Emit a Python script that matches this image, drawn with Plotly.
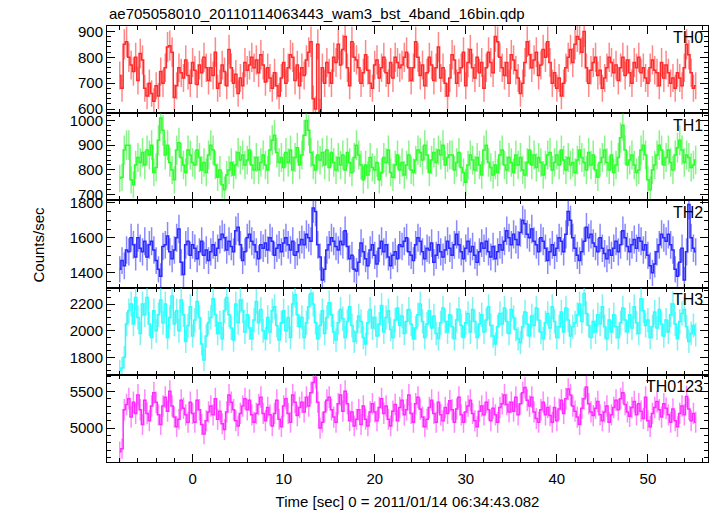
import numpy as np
import plotly.graph_objects as go
from plotly.subplots import make_subplots

# ---- data (count rates, 0.25 s bins, starting at t = -8.0 s) ----
T_START = -8.0
BIN = 0.25

th0 = [730, 680, 850, 860, 800, 770, 745, 800, 710, 815, 790, 680, 650, 700, 660, 630,
       690, 650, 745, 700, 760, 840, 845, 820, 645, 690, 760, 740, 720, 790, 730, 700,
       780, 750, 695, 770, 740, 800, 760, 710, 760, 730, 820, 680, 700, 770, 745, 690,
       830, 760, 700, 735, 660, 720, 690, 780, 750, 770, 800, 760, 790, 740, 810, 770,
       705, 760, 720, 680, 740, 690, 650, 720, 780, 700, 760, 810, 800, 710, 770, 690,
       760, 730, 790, 820, 860, 640, 600, 850, 590, 760, 700, 780, 740, 700, 800, 780,
       850, 770, 830, 880, 760, 690, 860, 800, 790, 760, 700, 740, 810, 750, 700, 680,
       770, 790, 720, 760, 800, 740, 700, 780, 720, 800, 780, 760, 770, 800, 820, 760,
       710, 760, 860, 800, 730, 770, 690, 740, 800, 770, 710, 760, 840, 720, 760, 700,
       650, 720, 810, 790, 700, 740, 760, 820, 690, 780, 830, 760, 720, 800, 740, 780,
       680, 760, 820, 780, 740, 880, 860, 800, 760, 730, 780, 700, 810, 790, 750, 720,
       660, 700, 780, 860, 810, 760, 790, 820, 730, 770, 830, 800, 860, 780, 700, 740,
       680, 720, 650, 700, 760, 800, 830, 780, 850, 880, 870, 820, 900, 760, 700, 750,
       780, 800, 730, 750, 680, 720, 760, 800, 780, 740, 770, 710, 760, 800, 730, 790,
       740, 700, 780, 760, 800, 740, 760, 720, 700, 760, 790, 750, 740, 690, 780, 720,
       770, 740, 700, 720, 680, 740, 720, 690, 760, 850, 810, 740, 680, 690]

th1 = [765, 770, 880, 900, 900, 760, 740, 820, 850, 830, 870, 820, 880, 860, 900, 790,
       810, 920, 1010, 960, 860, 900, 830, 800, 760, 880, 910, 850, 820, 790, 880, 860,
       830, 820, 880, 850, 800, 830, 790, 860, 900, 880, 820, 770, 800, 740, 720, 780,
       800, 830, 780, 820, 870, 840, 860, 820, 840, 880, 820, 800, 850, 800, 830, 860,
       820, 800, 880, 920, 940, 870, 830, 850, 810, 870, 830, 880, 800, 850, 890, 820,
       860, 940, 1000, 960, 870, 820, 800, 860, 840, 870, 820, 880, 810, 870, 830, 800,
       850, 820, 860, 800, 870, 830, 790, 850, 900, 860, 820, 760, 820, 780, 850, 810,
       800, 830, 760, 790, 850, 830, 880, 790, 770, 820, 860, 800, 830, 780, 820, 860,
       800, 790, 840, 880, 870, 840, 900, 860, 790, 840, 870, 830, 880, 860, 900, 820,
       850, 860, 860, 800, 830, 870, 810, 790, 750, 820, 860, 840, 800, 850, 820, 780,
       880, 900, 830, 810, 780, 820, 790, 860, 880, 820, 800, 850, 830, 790, 860, 820,
       850, 800, 780, 830, 880, 820, 860, 810, 850, 830, 780, 820, 860, 870, 800, 830,
       860, 820, 880, 840, 800, 850, 820, 830, 790, 840, 880, 850, 830, 800, 870, 820,
       860, 800, 770, 830, 850, 880, 830, 800, 860, 790, 820, 850, 930, 980, 880, 820,
       840, 860, 820, 790, 800, 880, 900, 860, 760, 720, 800, 820, 860, 900, 880, 820,
       850, 880, 830, 800, 860, 890, 920, 880, 830, 860, 850, 810, 820, 840]

th2 = [1420, 1470, 1440, 1530, 1520, 1600, 1560, 1490, 1600, 1540, 1520, 1580, 1490, 1560, 1580, 1530,
       1470, 1420, 1380, 1550, 1560, 1610, 1520, 1480, 1530, 1600, 1650, 1460, 1390, 1560, 1580, 1500,
       1560, 1540, 1480, 1520, 1580, 1500, 1530, 1470, 1520, 1560, 1500, 1540, 1590, 1620, 1600, 1530,
       1580, 1550, 1520, 1640, 1660, 1560, 1470, 1520, 1600, 1620, 1580, 1560, 1520, 1480, 1560, 1540,
       1570, 1530, 1600, 1580, 1500, 1540, 1560, 1520, 1570, 1600, 1560, 1530, 1580, 1500, 1520, 1560,
       1590, 1560, 1620, 1600, 1580, 1770, 1750, 1560, 1490, 1360, 1420, 1530, 1560, 1600, 1580, 1550,
       1530, 1580, 1560, 1640, 1550, 1480, 1500, 1420, 1410, 1460, 1570, 1520, 1480, 1440, 1530, 1560,
       1500, 1450, 1540, 1580, 1520, 1560, 1490, 1440, 1500, 1520, 1480, 1560, 1550, 1580, 1600, 1520,
       1500, 1470, 1560, 1600, 1580, 1520, 1480, 1540, 1530, 1570, 1460, 1500, 1560, 1520, 1490, 1530,
       1580, 1540, 1500, 1560, 1620, 1560, 1520, 1480, 1540, 1580, 1520, 1550, 1500, 1460, 1520, 1570,
       1540, 1580, 1520, 1490, 1550, 1480, 1520, 1560, 1530, 1580, 1640, 1600, 1560, 1620, 1590, 1560,
       1630, 1700, 1680, 1620, 1600, 1650, 1580, 1560, 1520, 1600, 1580, 1540, 1470, 1520, 1560, 1500,
       1540, 1600, 1580, 1520, 1620, 1750, 1700, 1600, 1540, 1500, 1470, 1520, 1580, 1660, 1600, 1620,
       1570, 1550, 1520, 1600, 1540, 1510, 1480, 1530, 1500, 1540, 1580, 1520, 1560, 1640, 1600, 1550,
       1520, 1560, 1590, 1540, 1600, 1580, 1530, 1560, 1500, 1440, 1400, 1450, 1520, 1560, 1620, 1600,
       1580, 1620, 1560, 1530, 1420, 1380, 1460, 1540, 1360, 1520, 1790, 1600, 1540, 1520]

th3 = [1700, 1720, 1800, 2050, 2150, 2200, 2050, 2250, 2100, 1980, 2200, 2120, 2250, 2050, 1950, 2150,
       2000, 2120, 2230, 2060, 2200, 1950, 2100, 2260, 2050, 2150, 2000, 2230, 2120, 1920, 2040, 2180,
       1960, 2080, 2220, 2100, 1900, 1780, 1960, 2060, 2100, 2240, 2120, 1980, 2060, 1940, 2150, 2250,
       2120, 2020, 1930, 2200, 2060, 2230, 2150, 1990, 2120, 2020, 1940, 2080, 2220, 2060, 2160, 2000,
       1940, 2100, 1990, 2150, 2180, 2040, 1930, 2060, 2150, 2000, 2100, 1950, 2200, 2270, 2120, 2030,
       2100, 1950, 2060, 2180, 2280, 2200, 2060, 1940, 2040, 2150, 1980, 2100, 2210, 2120, 1990, 1930,
       2060, 2160, 2090, 1950, 2070, 2180, 2040, 1920, 1990, 2110, 2070, 1950, 1900, 2060, 2160, 2020,
       2100, 1960, 2050, 2190, 1990, 2100, 2150, 2010, 1950, 2080, 2170, 2040, 2110, 1980, 2070, 2160,
       2050, 1940, 2020, 2120, 2200, 2070, 1950, 2050, 2150, 2020, 2110, 1980, 1940, 2060, 2170, 2070,
       1990, 2120, 2030, 1940, 2080, 2160, 2040, 1950, 2060, 2130, 1990, 2160, 2070, 1950, 2050, 2120,
       1990, 2080, 2180, 2040, 1960, 1900, 2030, 2130, 2050, 2170, 2070, 1980, 2160, 2100, 2010, 1940,
       1910, 2030, 2140, 2050, 1960, 2110, 2040, 2170, 2080, 1990, 1940, 2060, 2130, 2020, 2180, 2070,
       1950, 2030, 2140, 1990, 2170, 2080, 1960, 2030, 2060, 2120, 2200, 2070, 2280, 2130, 2040, 1950,
       2070, 1990, 2120, 2050, 2180, 2030, 1940, 2080, 1990, 2120, 2030, 1950, 2060, 2170, 2080, 1990,
       2120, 2020, 2180, 2060, 1980, 2240, 2150, 2040, 2080, 1950, 2030, 2140, 2020, 2160, 2050, 1960,
       2080, 1990, 2120, 2200, 2050, 1940, 2070, 2130, 2160, 2030, 1920, 1980, 2040, 1970]

th0123 = [4680, 4720, 5250, 5320, 5400, 5150, 5350, 5200, 5450, 5250, 5050, 5380, 5200, 5100, 5300, 5480,
          5350, 5180, 5050, 5300, 5420, 5230, 5500, 5300, 5150, 5020, 5120, 5380, 5270, 5180, 5080, 5350,
          5200, 5080, 5380, 5250, 5050, 4920, 5100, 5220, 5300, 5180, 5400, 5120, 5230, 5060, 4980, 5220,
          5450, 5350, 5250, 5100, 5030, 5200, 5300, 5400, 5250, 5380, 5180, 5080, 5200, 5320, 5420, 5200,
          5100, 5280, 5180, 5030, 5200, 5380, 5120, 5020, 5300, 5400, 5200, 5080, 5450, 5350, 5170, 5280,
          5350, 5220, 5420, 5300, 5480, 5620, 5690, 5350, 5000, 5080, 5220, 5380, 5420, 5250, 5150, 5080,
          5330, 5450, 5230, 5500, 5330, 5100, 5220, 5030, 5120, 5250, 5050, 5300, 5120, 5030, 5220, 5330,
          5220, 5100, 5280, 5400, 5200, 5300, 5120, 5030, 5230, 5320, 5100, 5280, 5380, 5180, 5250, 5450,
          5200, 5080, 5330, 5420, 5260, 5150, 5020, 5120, 5280, 5380, 5200, 5080, 5350, 5180, 5100, 5280,
          5200, 5370, 5250, 5080, 5260, 5420, 5180, 5080, 5220, 5300, 5380, 5200, 5100, 5020, 5230, 5300,
          5180, 5350, 5250, 5100, 5270, 5180, 5080, 5280, 5330, 5450, 5320, 5220, 5350, 5230, 5420, 5180,
          5330, 5480, 5550, 5380, 5300, 5420, 5220, 5130, 5080, 5250, 5350, 5180, 5280, 5170, 5080, 5280,
          5100, 5260, 5380, 5200, 5400, 5530, 5450, 5300, 5230, 5150, 5050, 5270, 5400, 5560, 5330, 5220,
          5170, 5270, 5360, 5180, 5100, 5220, 5300, 5080, 5180, 5280, 5380, 5250, 5400, 5480, 5320, 5220,
          5160, 5280, 5360, 5180, 5330, 5230, 5130, 5420, 5100, 5020, 5200, 5280, 5360, 5250, 5150, 5330,
          5270, 5180, 5080, 5260, 5100, 5020, 5200, 5300, 5180, 5430, 5260, 5100, 5200, 5080]

series = [th0, th1, th2, th3, th0123]
labels = ["TH0", "TH1", "TH2", "TH3", "TH0123"]
colors = ["#ff2a2a", "#2aff2a", "#2a2aff", "#2affff", "#ff2aff"]
err_colors = ["rgba(255,40,40,0.55)", "rgba(40,235,40,0.55)", "rgba(40,40,255,0.55)",
              "rgba(40,235,235,0.6)", "rgba(255,40,255,0.55)"]
y_ranges = [[584, 921], [677, 1029], [1316, 1813], [1669, 2324], [4540, 5724]]
y_major = [[600, 700, 800, 900], [700, 800, 900, 1000], [1400, 1600, 1800],
           [1800, 2000, 2200], [5000, 5500]]
y_minor = [20, 20, 50, 50, 100]
x_ticks = [0, 10, 20, 30, 40, 50]

FONT = "Liberation Sans, Arial, Helvetica, sans-serif"

fig = make_subplots(rows=5, cols=1, shared_xaxes=True, vertical_spacing=0)

for i, vals in enumerate(series):
    v = np.array(vals, dtype=float)
    t = T_START + BIN * np.arange(len(v))
    err = np.sqrt(v / BIN)  # Poisson error of a rate in BIN-second bins
    fig.add_trace(go.Scatter(
        x=t, y=v, mode="lines", line=dict(color=colors[i], width=1.5, shape="hvh"),
        error_y=dict(type="data", array=err, visible=True, color=err_colors[i],
                     thickness=1.5, width=0),
        showlegend=False, hoverinfo="skip"), row=i + 1, col=1)
    fig.update_yaxes(row=i + 1, col=1, range=y_ranges[i], tickvals=y_major[i],
                     ticks="inside", ticklen=8, tickwidth=1, tickcolor="black",
                     minor=dict(ticks="inside", dtick=y_minor[i], ticklen=4,
                                tickcolor="black", tickwidth=1),
                     showline=True, linecolor="black", linewidth=1, mirror="allticks",
                     showgrid=False, zeroline=False,
                     tickfont=dict(family=FONT, size=15, color="black"))
    fig.update_xaxes(row=i + 1, col=1, range=[-9.4, 56.6], tickvals=x_ticks,
                     ticks="inside", ticklen=8, tickwidth=1, tickcolor="black",
                     minor=dict(ticks="inside", dtick=2, tick0=0, ticklen=4,
                                tickcolor="black", tickwidth=1),
                     showline=True, linecolor="black", linewidth=1, mirror="allticks",
                     showgrid=False, zeroline=False,
                     tickfont=dict(family=FONT, size=15, color="black"))
    yref = "y domain" if i == 0 else f"y{i + 1} domain"
    xref = "x domain" if i == 0 else f"x{i + 1} domain"
    fig.add_annotation(text=labels[i], xref=xref, yref=yref, x=0.995, y=0.985,
                       xanchor="right", yanchor="top", showarrow=False,
                       font=dict(family=FONT, size=16, color="black"))

fig.update_xaxes(row=5, col=1, showticklabels=True, ticklabelstandoff=3,
                 title=dict(text="Time [sec] 0 = 2011/01/14 06:34:43.082",
                            font=dict(family=FONT, size=15, color="black"), standoff=10))

fig.add_annotation(text="ae705058010_20110114063443_wam3_bst_4band_16bin.qdp",
                   xref="paper", yref="paper", x=0, y=1, xanchor="left", yanchor="bottom",
                   yshift=2, showarrow=False, font=dict(family=FONT, size=15, color="black"))
fig.add_annotation(text="Counts/sec", xref="paper", yref="paper", x=-0.114, y=0.5,
                   xanchor="center", yanchor="middle", textangle=-90, showarrow=False,
                   font=dict(family=FONT, size=15, color="black"))

fig.update_layout(width=717, height=516, margin=dict(l=107, r=8, t=26, b=40),
                  paper_bgcolor="white", plot_bgcolor="white")

fig.write_html("out.html", config={"displayModeBar": False},
               post_script="document.body.style.margin='0';document.body.style.overflow='hidden';")
